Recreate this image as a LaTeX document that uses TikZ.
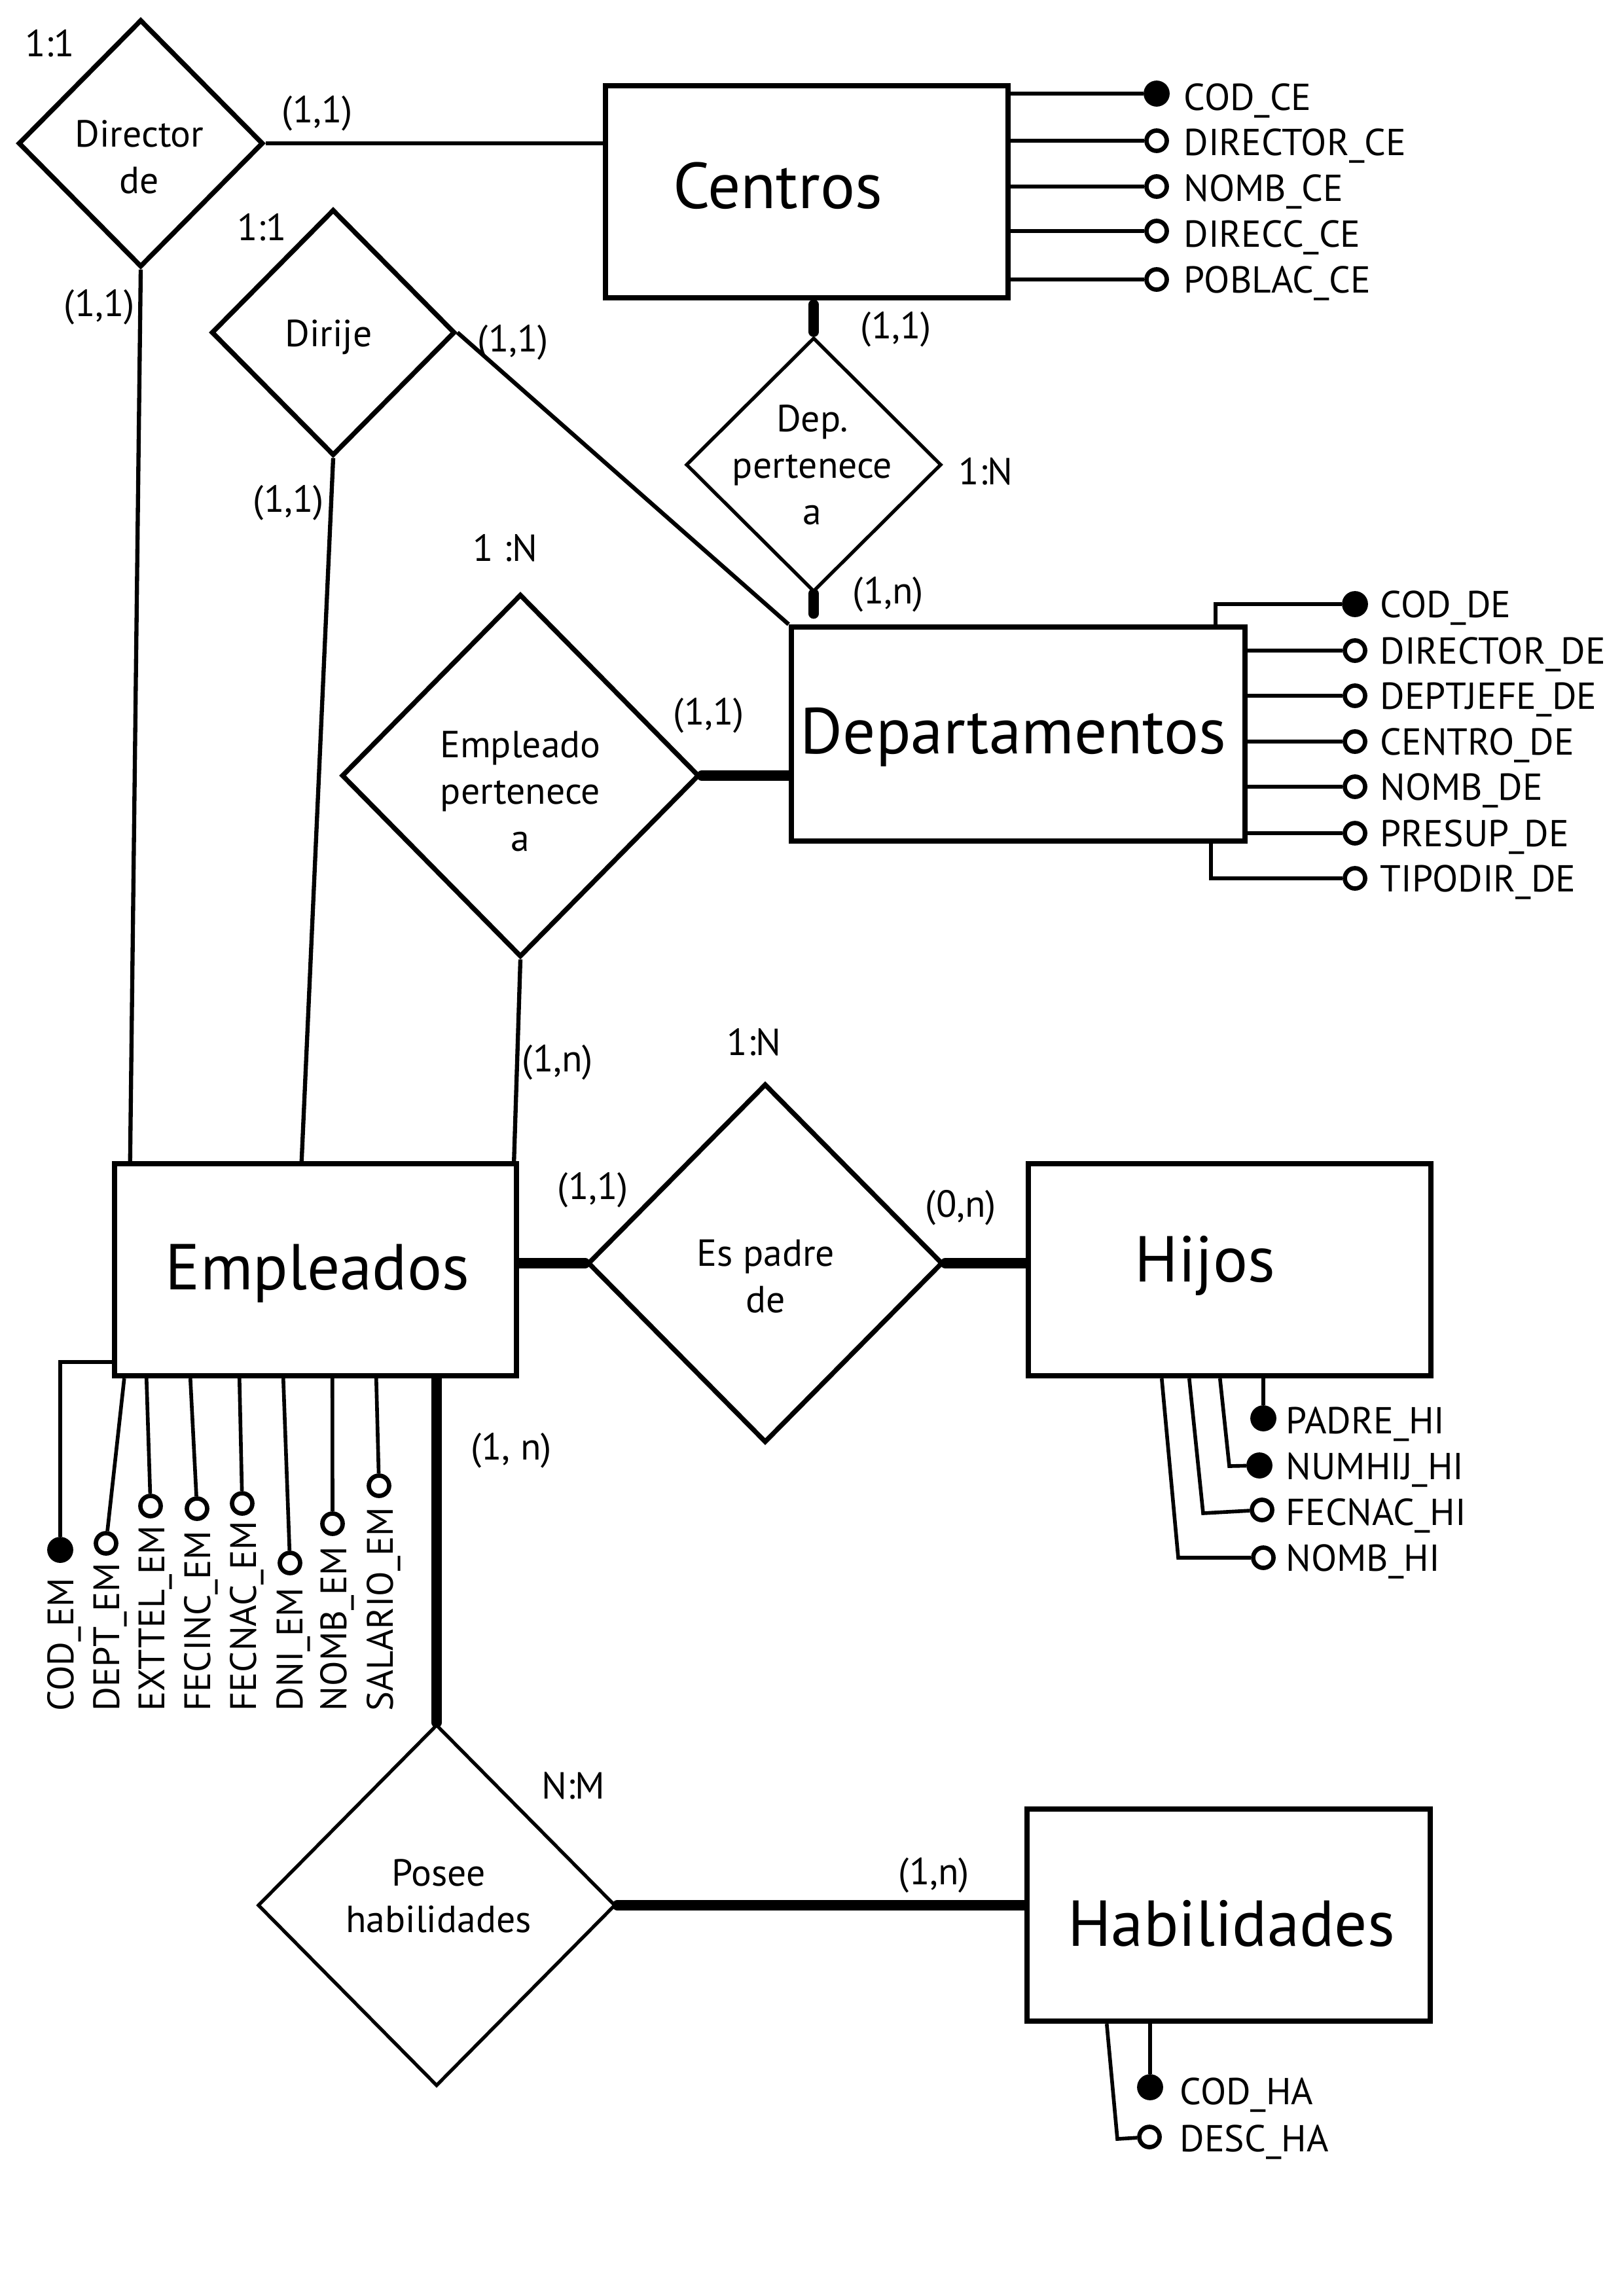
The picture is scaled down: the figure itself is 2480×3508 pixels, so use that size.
\documentclass[tikz,border=0pt]{standalone}
\usepackage{fontspec}
\setmainfont{PT Sans}
\usetikzlibrary{shapes.geometric,calc}
\begin{document}
\begin{tikzpicture}[x=0.01cm,y=-0.01cm,
  entity/.style={draw,line width=2.3pt,rectangle,inner sep=0pt},
  rel/.style={draw,diamond,line width=2.1pt,inner sep=0pt},
  relthin/.style={rel,line width=1.5pt},
  big/.style={font=\fontsize{28.2}{33}\selectfont,inner sep=0pt,anchor=base},
  txt/.style={font=\fontsize{16.4}{20.2}\selectfont,inner sep=0pt,align=center},
  attr/.style={font=\fontsize{16.3}{18}\selectfont,inner sep=0pt,anchor=base west},
  vattr/.style={font=\fontsize{16}{18}\selectfont,inner sep=0pt,anchor=base west,rotate=90},
  pk/.style={circle,fill=black,draw=black,line width=0.5pt,minimum size=0.38cm,inner sep=0pt},
  op/.style={circle,fill=white,draw=black,line width=1.9pt,minimum size=0.31cm,inner sep=0pt},
  link/.style={line width=1.8pt},
  alink/.style={line width=1.6pt},
  heavy/.style={line width=4.3pt,line cap=round},
]
\useasboundingbox (0,0) rectangle (2480,3508);

% ---------- entities ----------
\node[entity,minimum width=6.15cm,minimum height=3.24cm] (centros) at (1232.5,293) {};
\node[big] (centrosT) at (1188,318) {Centros};
\node[entity,minimum width=6.93cm,minimum height=3.27cm] (dpto) at (1555.5,1121.5) {};
\node[big] (dptoT) at (1548,1151) {Departamentos};
\node[entity,minimum width=6.14cm,minimum height=3.24cm] (emp) at (482,1940) {};
\node[big] (empT) at (485,1970) {Empleados};
\node[entity,minimum width=6.15cm,minimum height=3.24cm] (hijos) at (1878.5,1940) {};
\node[big] (hijosT) at (1841,1958) {Hijos};
\node[entity,minimum width=6.16cm,minimum height=3.24cm] (hab) at (1877,2926) {};
\node[big] (habT) at (1881,2973) {Habilidades};

% ---------- relationships ----------
\node[rel,minimum width=3.74cm,minimum height=3.78cm] (dirde) at (215,219) {};
\node[txt] (dirdeT) at (213,240) {Director\\de};
\node[rel,minimum width=3.72cm,minimum height=3.76cm] (dirije) at (509,508) {};
\node[txt,anchor=base] (dirijeT) at (502,529) {Dirije};
\node[relthin,minimum width=3.9cm,minimum height=3.88cm] (deppert) at (1243,710) {};
\node[txt] (deppertT) at (1241,710) {Dep.\\pertenece\\a};
\node[rel,minimum width=5.46cm,minimum height=5.54cm] (emppert) at (795,1185) {};
\node[txt] (emppertT) at (795,1209) {Empleado\\pertenece\\a};
\node[rel,minimum width=5.42cm,minimum height=5.48cm] (espadre) at (1169,1930) {};
\node[txt] (espadreT) at (1170,1950) {Es padre\\de};
\node[relthin,minimum width=5.46cm,minimum height=5.52cm] (posee) at (667,2911) {};
\node[txt] (poseeT) at (670,2897) {Posee\\habilidades};

% ---------- cardinalities ----------
\node[txt] (k1) at (76,66) {1:1};
\node[txt] (k2) at (485,173) {(1,1)};
\node[txt] (k3) at (152,469) {(1,1)};
\node[txt] (k4) at (400,347) {1:1};
\node[txt] (k5) at (784,523) {(1,1)};
\node[txt] (k6) at (441,768) {(1,1)};
\node[txt] (k7) at (1369,503) {(1,1)};
\node[txt] (k8) at (1506,720) {1:N};
\node[txt] (k9) at (1357,908) {(1,n)};
\node[txt] (k10) at (772,837) {1 :N};
\node[txt] (k11) at (1083,1093) {(1,1)};
\node[txt] (k12) at (852,1623) {(1,n)};
\node[txt] (k13) at (1152,1592) {1:N};
\node[txt] (k14) at (906,1818) {(1,1)};
\node[txt] (k15) at (1468,1845) {(0,n)};
\node[txt] (k16) at (781,2216) {(1, n)};
\node[txt] (k17) at (876,2728) {N:M};
\node[txt] (k18) at (1427,2865) {(1,n)};

% ---------- relationship connectors ----------
\draw[link] (dirde.east) -- (dirde.east -| centros.west);
\draw[link] (dirde.south) -- ($(emp.north west)+(28,0)$);
\draw[link] (dirije.south) -- ($(emp.north west)+(290,0)$);
\draw[link] (dirije.east) -- (dpto.north west);
\draw[heavy] ($(deppert.north |- centros.south)+(0,6)$) -- ($(deppert.north)+(0,-6)$);
\draw[heavy] (deppert.south) -- ($(deppert.south |- dpto.north)+(0,-16)$);
\draw[heavy] (emppert.east) -- (emppert.east -| dpto.west);
\draw[link] (emppert.south) -- ($(emp.north east)+(-8,0)$);
\draw[heavy] (emp.east |- espadre.west) -- (espadre.west);
\draw[heavy] (espadre.east) -- (espadre.east -| hijos.west);
\draw[heavy] (posee.north |- emp.south) -- (posee.north);
\draw[heavy] (posee.east) -- (posee.east -| hab.west);

% ---------- Centros attributes ----------
\node[pk] (ce1) at (1767,143) {};
\node[op] (ce2) at (1767,215) {};
\node[op] (ce3) at (1767,285) {};
\node[op] (ce4) at (1767,353) {};
\node[op] (ce5) at (1767,427) {};
\foreach \i in {1,...,5} \draw[alink] (centros.east |- ce\i) -- (ce\i);
\node[attr] (ce1T) at (1808,168) {COD\_CE};
\node[attr] (ce2T) at (1808,237) {DIRECTOR\_CE};
\node[attr] (ce3T) at (1808,307) {NOMB\_CE};
\node[attr] (ce4T) at (1808,377) {DIRECC\_CE};
\node[attr] (ce5T) at (1808,447) {POBLAC\_CE};

% ---------- Departamentos attributes ----------
\node[pk] (dd1) at (2070,923) {};
\node[op] (dd2) at (2070,994) {};
\node[op] (dd3) at (2070,1063) {};
\node[op] (dd4) at (2070,1133) {};
\node[op] (dd5) at (2070,1202) {};
\node[op] (dd6) at (2070,1273) {};
\node[op] (dd7) at (2070,1342) {};
\draw[alink] ($(dpto.north west)+(652,0)$) |- (dd1);
\foreach \i in {2,...,6} \draw[alink] (dpto.east |- dd\i) -- (dd\i);
\draw[alink] ($(dpto.south west)+(645,0)$) |- (dd7);
\node[attr] (dd1T) at (2108,943) {COD\_DE};
\node[attr] (dd2T) at (2108,1014) {DIRECTOR\_DE};
\node[attr] (dd3T) at (2108,1083) {DEPTJEFE\_DE};
\node[attr] (dd4T) at (2108,1153) {CENTRO\_DE};
\node[attr] (dd5T) at (2108,1222) {NOMB\_DE};
\node[attr] (dd6T) at (2108,1293) {PRESUP\_DE};
\node[attr] (dd7T) at (2108,1362) {TIPODIR\_DE};

% ---------- Empleados attributes ----------
\node[pk] (em1) at (92,2368) {};
\node[op] (em2) at (162,2358) {};
\node[op] (em3) at (230,2301) {};
\node[op] (em4) at (301,2305) {};
\node[op] (em5) at (370,2297) {};
\node[op] (em6) at (443,2388) {};
\node[op] (em7) at (508,2328) {};
\node[op] (em8) at (579,2270) {};
\draw[alink] ($(emp.south west)+(0,-25)$) -| (em1);
\draw[alink] ($(emp.south west)+(19,0)$) -- (em2);
\draw[alink] ($(emp.south west)+(53,0)$) -- (em3);
\draw[alink] ($(emp.south west)+(120,0)$) -- (em4);
\draw[alink] ($(emp.south west)+(195,0)$) -- (em5);
\draw[alink] ($(emp.south west)+(262,0)$) -- (em6);
\draw[alink] ($(emp.south west)+(337,0)$) -- (em7);
\draw[alink] ($(emp.south west)+(404,0)$) -- (em8);
\node[vattr] (em1T) at (112,2615) {COD\_EM};
\node[vattr] (em2T) at (182,2615) {DEPT\_EM};
\node[vattr] (em3T) at (251,2615) {EXTTEL\_EM};
\node[vattr] (em4T) at (321,2615) {FECINC\_EM};
\node[vattr] (em5T) at (391,2615) {FECNAC\_EM};
\node[vattr] (em6T) at (462,2615) {DNI\_EM};
\node[vattr] (em7T) at (529,2615) {NOMB\_EM};
\node[vattr] (em8T) at (600,2615) {SALARIO\_EM};

% ---------- Hijos attributes ----------
\node[pk] (hi1) at (1930,2167) {};
\node[pk] (hi2) at (1924,2239) {};
\node[op] (hi3) at (1928,2307) {};
\node[op] (hi4) at (1930,2380) {};
\draw[alink] (hi1 |- hijos.south) -- (hi1);
\draw[alink] ($(hijos.south west)+(297,0)$) -- ($(hi2)+(-46,1)$) -- (hi2);
\draw[alink] ($(hijos.south west)+(250,0)$) -- ($(hi3)+(-90,5)$) -- (hi3);
\draw[alink] ($(hijos.south west)+(208,0)$) -- ($(hi4)+(-130,0)$) -- (hi4);
\node[attr] (hi1T) at (1964,2190) {PADRE\_HI};
\node[attr] (hi2T) at (1964,2260) {NUMHIJ\_HI};
\node[attr] (hi3T) at (1964,2330) {FECNAC\_HI};
\node[attr] (hi4T) at (1964,2400) {NOMB\_HI};

% ---------- Habilidades attributes ----------
\node[pk] (ha1) at (1757,3189) {};
\node[op] (ha2) at (1756,3265) {};
\draw[alink] (ha1 |- hab.south) -- (ha1);
\draw[alink] ($(hab.south west)+(126,0)$) -- ($(ha2)+(-49,3)$) -- (ha2);
\node[attr] (ha1T) at (1802,3215) {COD\_HA};
\node[attr] (ha2T) at (1802,3287) {DESC\_HA};
\end{tikzpicture}
\end{document}
